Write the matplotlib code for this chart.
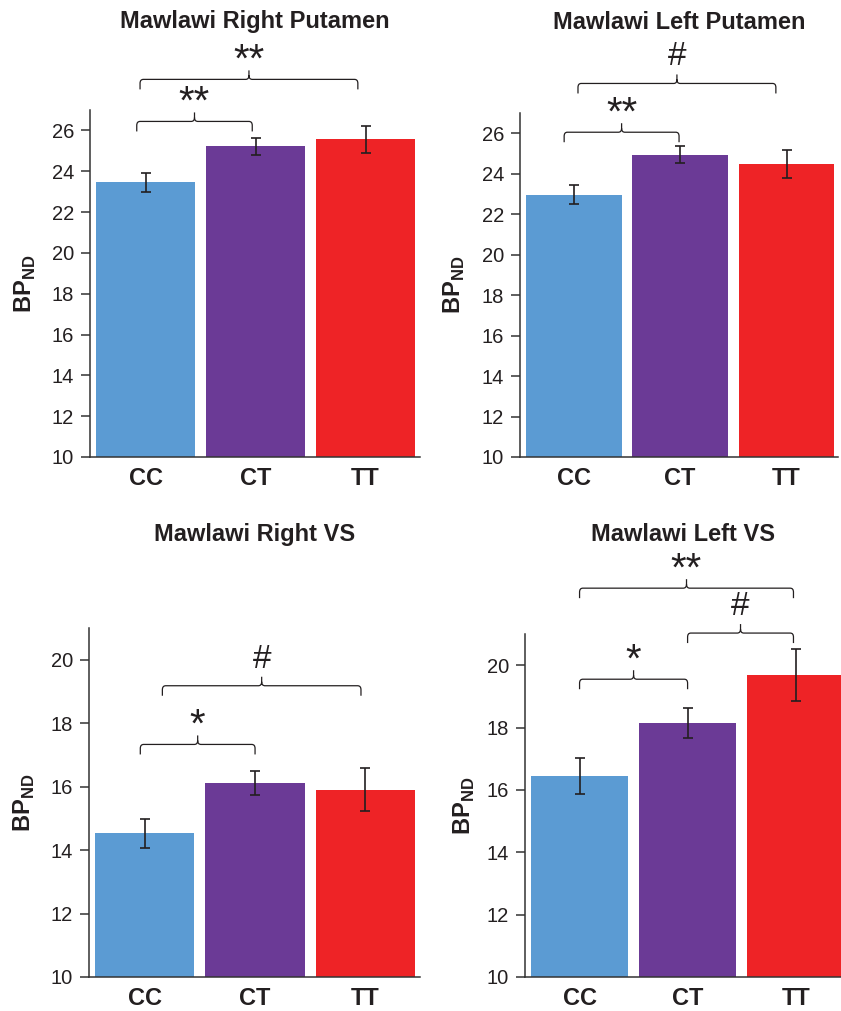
import matplotlib
matplotlib.use('Agg')
import matplotlib.pyplot as plt
from matplotlib.path import Path
from matplotlib.patches import PathPatch

plt.rcParams['font.family'] = ['Liberation Sans', 'DejaVu Sans']
plt.rcParams['mathtext.fontset'] = 'custom'
plt.rcParams['mathtext.rm'] = 'Liberation Sans'
plt.rcParams['mathtext.bf'] = 'Liberation Sans:bold'

# data
groups = ['CC', 'CT', 'TT']
bar_colors = ['#5b9bd3', '#6b3a96', '#ee2326']

titles = ['Mawlawi Right Putamen', 'Mawlawi Left Putamen',
          'Mawlawi Right VS', 'Mawlawi Left VS']

right_put_mean = [23.46, 25.22, 25.56]
right_put_err = [0.47, 0.41, 0.68]
left_put_mean = [22.97, 24.94, 24.49]
left_put_err = [0.47, 0.41, 0.69]
right_vs_mean = [14.53, 16.12, 15.90]
right_vs_err = [0.45, 0.38, 0.68]
left_vs_mean = [16.44, 18.14, 19.68]
left_vs_err = [0.57, 0.48, 0.83]

# significance brackets: (x start, x end, bracket height, label)
right_put_sig = [(-0.08, 0.97, 26.44, '**'), (-0.05, 1.93, 28.5, '**')]
left_put_sig = [(-0.09, 0.99, 26.05, '**'), (0.04, 1.90, 28.46, '#')]
right_vs_sig = [(-0.04, 1.00, 17.33, '*'), (0.16, 1.96, 19.18, '#')]
left_vs_sig = [(0.0, 1.0, 19.55, '*'), (1.0, 1.98, 21.03, '#'), (0.0, 1.98, 22.47, '**')]

ink = '#231f20'
W, H = 841, 1011

panels = [
    # (left px, right px, top px, bottom px, ylim top, yticks, xlim right, ylabel x, title y)
    (90, 420, 110, 457, 27, range(10, 27, 2), 2.495, -0.158, 1.236),
    (520, 838, 113, 457, 27, range(10, 27, 2), 2.484, -0.167, 1.244),
    (89, 420, 628, 977, 21, range(10, 21, 2), 2.495, -0.158, 1.249),
    (525, 841, 634, 977, 21, range(10, 21, 2), 2.42, -0.152, 1.271),
]
means = [right_put_mean, left_put_mean, right_vs_mean, left_vs_mean]
errs = [right_put_err, left_put_err, right_vs_err, left_vs_err]
sigs = [right_put_sig, left_put_sig, right_vs_sig, left_vs_sig]


def bracket(ax, x0, x1, y, label, ppu):
    h = 10 / ppu
    tip = 9 / ppu
    rx = 0.03
    ry = 4 / ppu
    xm = (x0 + x1) / 2
    verts = [(x0, y - h), (x0, y - ry), (x0, y), (x0 + rx, y),
             (xm - rx, y), (xm, y), (xm, y + ry), (xm, y + tip),
             (xm, y + ry), (xm, y), (xm + rx, y),
             (x1 - rx, y), (x1, y), (x1, y - ry), (x1, y - h)]
    codes = [Path.MOVETO, Path.LINETO, Path.CURVE3, Path.CURVE3,
             Path.LINETO, Path.CURVE3, Path.CURVE3, Path.LINETO,
             Path.MOVETO, Path.CURVE3, Path.CURVE3,
             Path.LINETO, Path.CURVE3, Path.CURVE3, Path.LINETO]
    patch = PathPatch(Path(verts, codes), facecolor='none', edgecolor=ink,
                      lw=0.9, clip_on=False)
    ax.add_patch(patch)
    # asterisks sit high in the font box, so pull them down
    if label == '#':
        off, fs = 2, 24
    else:
        off, fs = -9, 29
    ax.text(xm, y + tip + off / ppu, label, ha='center', va='bottom',
            fontsize=fs, color=ink, clip_on=False)


fig = plt.figure(figsize=(W / 100, H / 100), dpi=100)

for k, p in enumerate(panels):
    left, right, top, bottom, ytop, yticks, xright, ylx, ty = p
    ax = fig.add_axes([left / W, 1 - bottom / H, (right - left) / W, (bottom - top) / H])
    x = range(len(groups))
    ax.bar(x, means[k], width=0.9, color=bar_colors)
    ax.errorbar(x, means[k], yerr=errs[k], fmt='none', ecolor=ink,
                elinewidth=1.2, capsize=3.8, capthick=1.2)
    ax.set_xlim(-0.505, xright)
    ax.set_ylim(10, ytop)
    ax.set_yticks(list(yticks))
    ax.set_xticks(list(x))
    ax.set_xticklabels(groups, fontsize=17, fontweight='bold', color=ink)
    ax.tick_params(axis='x', length=0, pad=7)
    ax.tick_params(axis='y', length=6.5, width=1.1, color='#333333',
                   labelsize=14.5, labelcolor=ink, pad=5, direction='out')
    for s in ['top', 'right']:
        ax.spines[s].set_visible(False)
    for s in ['left', 'bottom']:
        ax.spines[s].set_linewidth(1.1)
        ax.spines[s].set_color('#333333')
    ax.set_ylabel(r'$\mathbf{BP}_{\mathbf{ND}}$', fontsize=17, color=ink)
    ax.yaxis.set_label_coords(ylx, 0.5)
    ax.set_title(titles[k], fontsize=17, fontweight='bold', color=ink, y=ty, pad=0)

    ppu = (bottom - top) / (ytop - 10)
    for x0, x1, yb, lab in sigs[k]:
        bracket(ax, x0, x1, yb, lab, ppu)

fig.savefig('out.png', dpi=100)
